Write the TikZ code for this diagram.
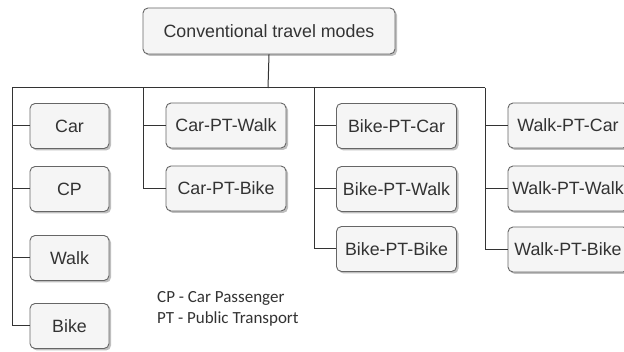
\documentclass[tikz,border=0pt]{standalone}
\usepackage{fontspec}
\setmainfont{Liberation Sans}
\newfontfamily\legendfont{Carlito}
\usetikzlibrary{shadows}
\definecolor{boxfill}{HTML}{F5F5F5}
\definecolor{boxline}{HTML}{666666}
\definecolor{txt}{HTML}{333333}
\definecolor{wire}{HTML}{333333}
\tikzset{
  modebox/.style={draw=boxline, fill=boxfill, rounded corners=5pt, line width=0.9pt,
    minimum height=45pt, inner sep=0pt, text=txt,
    font=\fontsize{17.8}{21}\selectfont,
    drop shadow={shadow xshift=2pt, shadow yshift=-2pt, fill=black, opacity=0.25}},
  narrowbox/.style={modebox, minimum width=79pt},
  widebox/.style={modebox, minimum width=120pt},
  wireline/.style={draw=wire, line width=1pt}
}
\begin{document}
\begin{tikzpicture}[x=1pt, y=-1pt]
\clip (0,0) rectangle (624,352);
\fill[white] (0,0) rectangle (624,352);
% root
\node[modebox, minimum width=252pt, minimum height=46pt] (root) at (269,31) {Conventional travel modes};
% column 1
\node[narrowbox] (car) at (69.5,126) {Car};
\node[narrowbox] (cp) at (69.5,189) {CP};
\node[narrowbox] (walk) at (69.5,258) {Walk};
\node[narrowbox] (bike) at (69.5,326) {Bike};
% column 2
\node[widebox] (cptw) at (226,125.5) {Car-PT-Walk};
\node[widebox] (cptb) at (226,188.5) {Car-PT-Bike};
% column 3
\node[widebox] (bptc) at (396.5,126) {Bike-PT-Car};
\node[widebox] (bptw) at (396.5,189) {Bike-PT-Walk};
\node[widebox] (bptb) at (396.5,249) {Bike-PT-Bike};
% column 4
\node[widebox] (wptc) at (568,125.5) {Walk-PT-Car};
\node[widebox] (wptw) at (568,188.5) {Walk-PT-Walk};
\node[widebox] (wptb) at (568,249.5) {Walk-PT-Bike};
% bus coordinates
\coordinate (b1) at (12,88);
\coordinate (b2) at (143,88);
\coordinate (b3) at (314,88);
\coordinate (b4) at (485,88);
\coordinate (rootbus) at (268,88);
% connectors
\draw[wireline] (root.south) -- (rootbus);
\draw[wireline] (b1) -- (b4);
\foreach \c in {car,cp,walk,bike} \draw[wireline] (b1) |- (\c.west);
\foreach \c in {cptw,cptb} \draw[wireline] (b2) |- (\c.west);
\foreach \c in {bptc,bptw,bptb} \draw[wireline] (b3) |- (\c.west);
\foreach \c in {wptc,wptw,wptb} \draw[wireline] (b4) |- (\c.west);
% legend
\node[anchor=west, align=left, inner sep=0pt, text=txt,
  font=\legendfont\fontsize{17}{21}\selectfont] (legend) at (157,308.5)
  {CP - Car Passenger\\PT - Public Transport};
\end{tikzpicture}
\end{document}
